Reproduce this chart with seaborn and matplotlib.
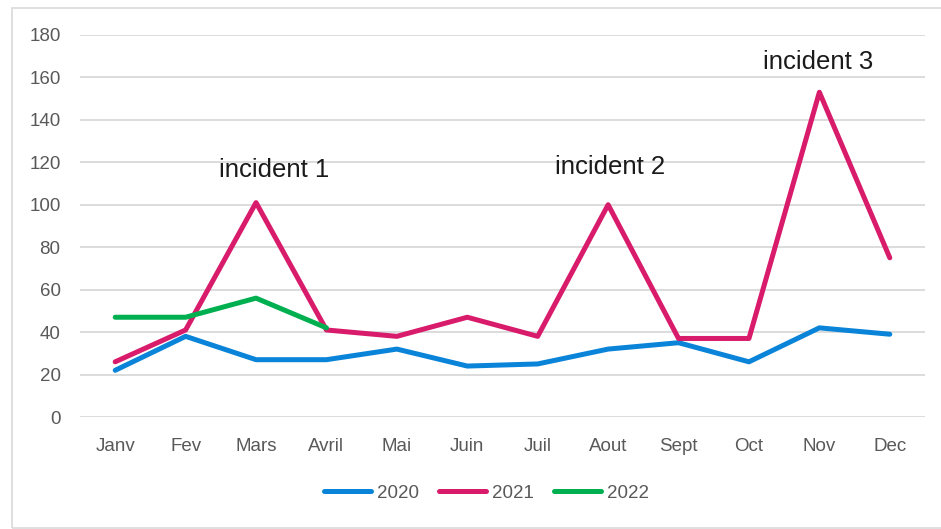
import pandas as pd
import seaborn as sns
import matplotlib.pyplot as plt
from matplotlib.patches import Rectangle

mois = ['Janv', 'Fev', 'Mars', 'Avril', 'Mai', 'Juin', 'Juil', 'Aout', 'Sept', 'Oct', 'Nov', 'Dec']
v2020 = [22, 38, 27, 27, 32, 24, 25, 32, 35, 26, 42, 39]
v2021 = [26, 41, 101, 41, 38, 47, 38, 100, 37, 37, 153, 75]
v2022 = [47, 47, 56, 42]
annees = ['2020', '2021', '2022']
couleurs = ['#0A84D8', '#D81B6A', '#00B050']

# format long pour seaborn
rows = []
for an, vals in zip(annees, [v2020, v2021, v2022]):
    for m, v in zip(mois, vals):
        rows.append({'mois': m, 'valeur': v, 'annee': an})
df = pd.DataFrame(rows)
df['x'] = df['mois'].map({m: i for i, m in enumerate(mois)})

sns.set_style('white')
plt.rcParams['font.family'] = ['Liberation Sans', 'DejaVu Sans']

fig = plt.figure(figsize=(9.41, 5.29), dpi=100)
ax = fig.add_axes([0.085, 0.2117, 0.898, 0.7223])
sns.lineplot(data=df, x='x', y='valeur', hue='annee', palette=dict(zip(annees, couleurs)),
             linewidth=3.6, sort=False, ax=ax)

ax.set_xlim(-0.5, 11.5)
ax.set_ylim(0, 180)
ax.set_yticks(range(0, 181, 20))
ax.set_xticks(range(12))
ax.set_xticklabels(mois)
ax.yaxis.grid(True, color='#D9D9D9', linewidth=1.3)
ax.set_axisbelow(True)
for s in ax.spines.values():
    s.set_visible(False)
ax.tick_params(axis='both', colors='#595959', labelsize=13.5, length=0)
ax.tick_params(axis='x', pad=15)
ax.tick_params(axis='y', pad=14)
ax.set_xlabel('')
ax.set_ylabel('')

# annotations
ax.text(2.25, 113, 'incident 1', fontsize=18.5, ha='center', va='baseline', color='#1a1a1a')
ax.text(7.03, 114.5, 'incident 2', fontsize=18.5, ha='center', va='baseline', color='#1a1a1a')
ax.text(9.98, 164, 'incident 3', fontsize=18.5, ha='center', va='baseline', color='#1a1a1a')

leg = ax.legend(loc='center', bbox_to_anchor=(0.481, -0.2), ncol=3, frameon=False,
                handlelength=2.5, handletextpad=0.3, columnspacing=1.1, fontsize=13.5)
for t in leg.get_texts():
    t.set_color('#595959')
for h in leg.get_lines():
    h.set_linewidth(3.6)

fig.patches.append(Rectangle((12 / 941, 1 / 529), 0.99, 520 / 529, transform=fig.transFigure,
                             fill=False, edgecolor='#D9D9D9', linewidth=1.2))

fig.savefig('out.png', dpi=100)
